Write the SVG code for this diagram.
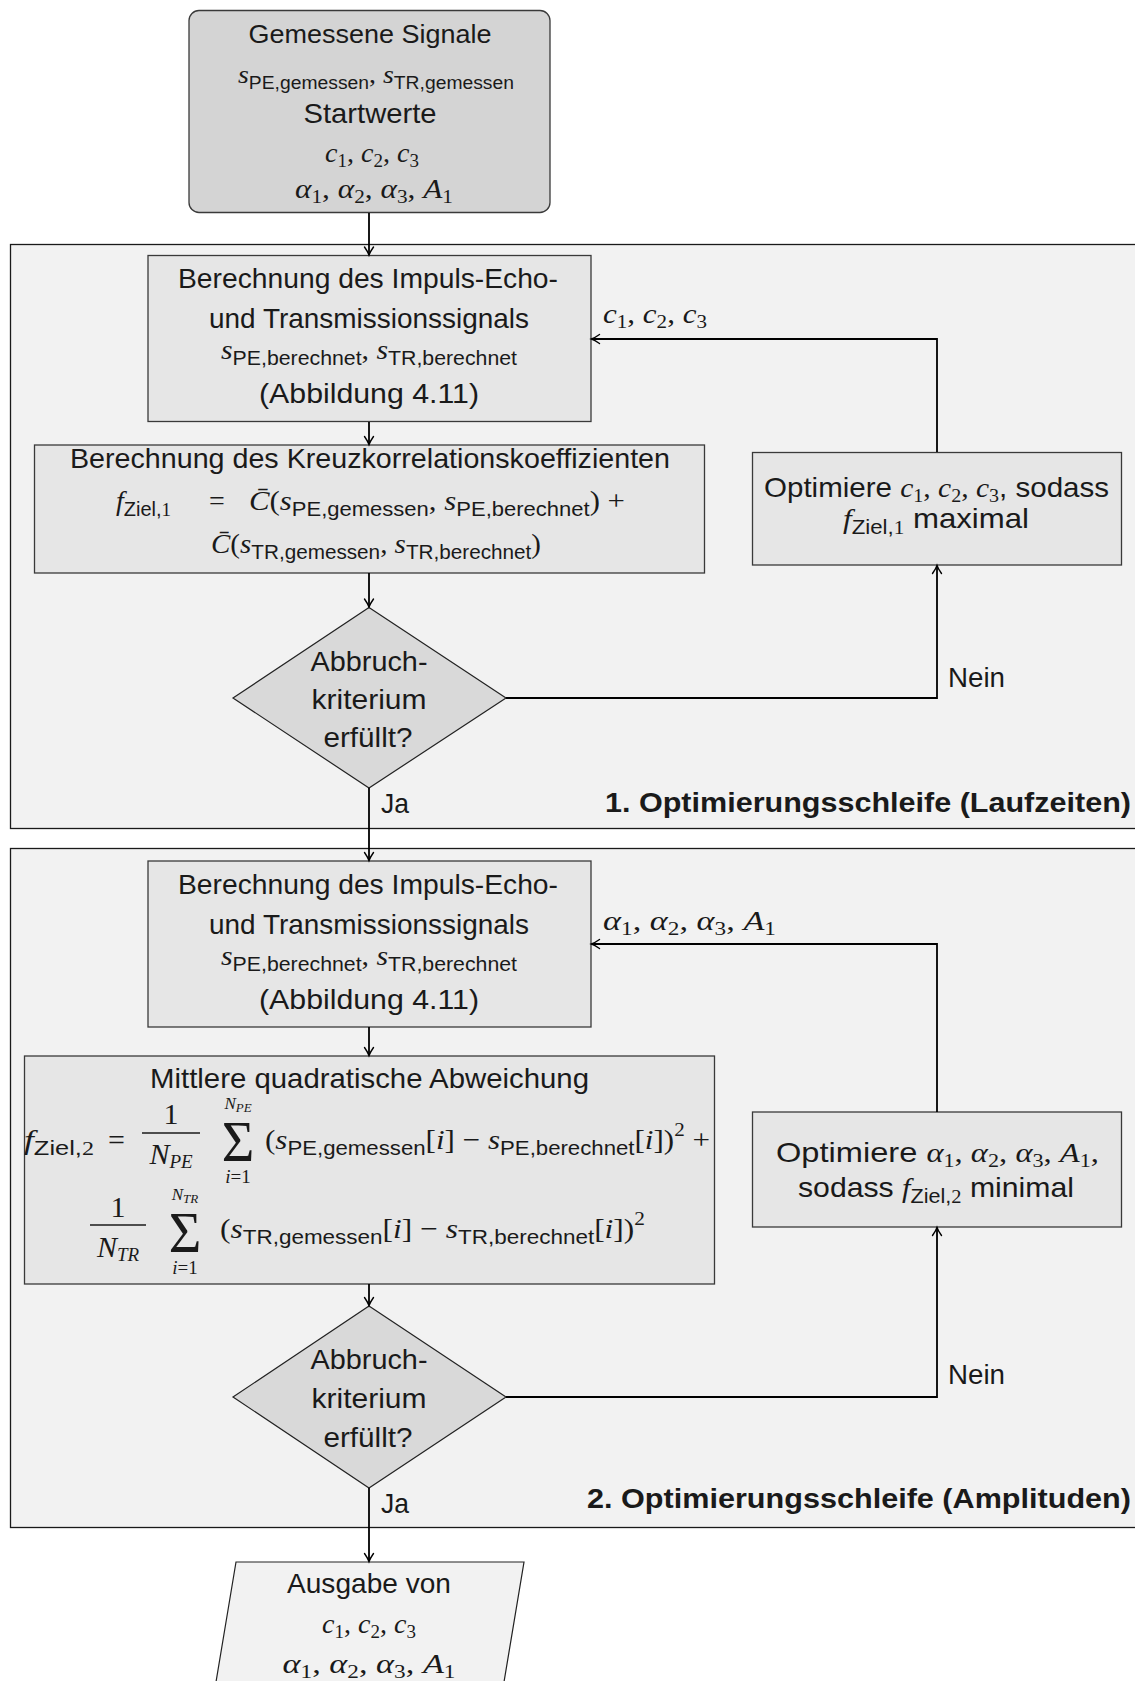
<svg xmlns="http://www.w3.org/2000/svg" width="1135" height="1681" viewBox="0 0 1135 1681">
<defs>
<style>
text{font-family:"Liberation Sans",Arial,sans-serif;font-size:28px;fill:#1a1a1a}
.c{text-anchor:middle}
.k{font-size:26px}
.mi{font-family:"Liberation Serif","Times New Roman",serif;font-style:italic}
.mr{font-family:"Liberation Serif","Times New Roman",serif;font-style:normal}
.sb{font-size:20px}
.sbk{font-size:18px}
.ns{font-family:"Liberation Serif","Times New Roman",serif;font-size:19px;font-style:normal}
.nsi{font-family:"Liberation Serif","Times New Roman",serif;font-style:italic;font-size:19px}
.sup{font-family:"Liberation Serif","Times New Roman",serif;font-style:italic;font-size:17px}
.sup2{font-size:13px}
.fr{font-size:30px}
.big{font-family:"Liberation Serif","Times New Roman",serif;font-size:56px}
.ttl{font-weight:bold;text-anchor:end;font-size:27px}
.frame{fill:#f2f2f2;stroke:#1a1a1a;stroke-width:1.3}
.box{fill:#e6e6e6;stroke:#3a3a3a;stroke-width:1.3}
.start{fill:#d4d4d4;stroke:#3a3a3a;stroke-width:1.3}
.dec{fill:#d9d9d9;stroke:#222;stroke-width:1.2}
.out{fill:#f2f2f2;stroke:#222;stroke-width:1.2}
.ln{fill:none;stroke:#000;stroke-width:1.8;marker-end:url(#ar)}
.bar{stroke:#1a1a1a;stroke-width:1.3}
</style>
<marker id="ar" viewBox="-10 -6 12 12" refX="0" refY="0" markerWidth="12" markerHeight="12" markerUnits="userSpaceOnUse" orient="auto" overflow="visible">
<path d="M-8,-4.5 Q-3,-1 0,0 Q-3,1 -8,4.5" fill="none" stroke="#000" stroke-width="1.4" stroke-linecap="round"/>
</marker>
</defs>
<rect width="1135" height="1681" fill="#fff"/>

<g id="frame1">
<rect class="frame" x="10.5" y="244.5" width="1140" height="584"/>
<text class="ttl" x="1131" y="812" textLength="526" lengthAdjust="spacingAndGlyphs">1. Optimierungsschleife (Laufzeiten)</text>
</g>
<g id="frame2">
<rect class="frame" x="10.5" y="848.5" width="1140" height="679"/>
<text class="ttl" x="1131" y="1508" textLength="544" lengthAdjust="spacingAndGlyphs">2. Optimierungsschleife (Amplituden)</text>
</g>

<g id="start-node">
<rect class="start" x="189" y="10.5" width="361" height="202" rx="10"/>
<text class="c k" x="370" y="43" textLength="243" lengthAdjust="spacingAndGlyphs">Gemessene Signale</text>
<text class="c k" x="376" y="83" textLength="276" lengthAdjust="spacingAndGlyphs"><tspan class="mi">s</tspan><tspan class="sbk" dy="6">PE,gemessen</tspan><tspan class="mr" dy="-6">, </tspan><tspan class="mi">s</tspan><tspan class="sbk" dy="6">TR,gemessen</tspan></text>
<text class="c" x="370" y="123" textLength="133" lengthAdjust="spacingAndGlyphs">Startwerte</text>
<text class="c" x="372" y="162"><tspan class="mi">c</tspan><tspan class="ns" dy="5">1</tspan><tspan class="mr" dy="-5">, </tspan><tspan class="mi">c</tspan><tspan class="ns" dy="5">2</tspan><tspan class="mr" dy="-5">, </tspan><tspan class="mi">c</tspan><tspan class="ns" dy="5">3</tspan></text>
<text class="c" x="374" y="198" textLength="158" lengthAdjust="spacingAndGlyphs"><tspan class="mi">α</tspan><tspan class="ns" dy="5">1</tspan><tspan class="mr" dy="-5">, </tspan><tspan class="mi">α</tspan><tspan class="ns" dy="5">2</tspan><tspan class="mr" dy="-5">, </tspan><tspan class="mi">α</tspan><tspan class="ns" dy="5">3</tspan><tspan class="mr" dy="-5">, </tspan><tspan class="mi">A</tspan><tspan class="ns" dy="5">1</tspan></text>
</g>

<g id="calc1">
<rect class="box" x="148" y="255.5" width="443" height="166"/>
<text class="c" x="368" y="288" textLength="380" lengthAdjust="spacingAndGlyphs">Berechnung des Impuls-Echo-</text>
<text class="c" x="369" y="328" textLength="320" lengthAdjust="spacingAndGlyphs">und Transmissionssignals</text>
<text class="c" x="369" y="359" textLength="296" lengthAdjust="spacingAndGlyphs"><tspan class="mi">s</tspan><tspan class="sb" dy="6">PE,berechnet</tspan><tspan class="mr" dy="-6">, </tspan><tspan class="mi">s</tspan><tspan class="sb" dy="6">TR,berechnet</tspan></text>
<text class="c" x="369" y="403" textLength="220" lengthAdjust="spacingAndGlyphs">(Abbildung 4.11)</text>
</g>

<g id="xcorr">
<rect class="box" x="34.5" y="445" width="670" height="128"/>
<text class="c" x="370" y="468" textLength="600" lengthAdjust="spacingAndGlyphs">Berechnung des Kreuzkorrelationskoeffizienten</text>
<text x="116" y="510"><tspan class="mi">f</tspan><tspan class="sb" dy="6">Ziel,</tspan><tspan class="ns">1</tspan></text>
<text class="mr" x="209" y="510">=</text>
<text x="249" y="510" textLength="376" lengthAdjust="spacingAndGlyphs"><tspan class="mi">C̄</tspan><tspan class="mr">(</tspan><tspan class="mi">s</tspan><tspan class="sb" dy="6">PE,gemessen</tspan><tspan class="mr" dy="-6">, </tspan><tspan class="mi">s</tspan><tspan class="sb" dy="6">PE,berechnet</tspan><tspan class="mr" dy="-6">) +</tspan></text>
<text x="211" y="553" textLength="330" lengthAdjust="spacingAndGlyphs"><tspan class="mi">C̄</tspan><tspan class="mr">(</tspan><tspan class="mi">s</tspan><tspan class="sb" dy="6">TR,gemessen</tspan><tspan class="mr" dy="-6">, </tspan><tspan class="mi">s</tspan><tspan class="sb" dy="6">TR,berechnet</tspan><tspan class="mr" dy="-6">)</tspan></text>
</g>

<g id="decision1">
<polygon class="dec" points="369,607.5 506,698 369,788 233,698"/>
<text class="c" x="369" y="671" textLength="117" lengthAdjust="spacingAndGlyphs">Abbruch-</text>
<text class="c" x="369" y="709" textLength="115" lengthAdjust="spacingAndGlyphs">kriterium</text>
<text class="c" x="368" y="747" textLength="89" lengthAdjust="spacingAndGlyphs">erfüllt?</text>
</g>

<g id="opt1">
<rect class="box" x="752.5" y="452.5" width="369" height="112.5"/>
<text class="c" x="936.5" y="497" textLength="345" lengthAdjust="spacingAndGlyphs">Optimiere <tspan class="mi">c</tspan><tspan class="ns" dy="5">1</tspan><tspan class="mr" dy="-5">, </tspan><tspan class="mi">c</tspan><tspan class="ns" dy="5">2</tspan><tspan class="mr" dy="-5">, </tspan><tspan class="mi">c</tspan><tspan class="ns" dy="5">3</tspan><tspan dy="-5">, sodass</tspan></text>
<text class="c" x="936" y="528" textLength="186" lengthAdjust="spacingAndGlyphs"><tspan class="mi">f</tspan><tspan class="sb" dy="6">Ziel,</tspan><tspan class="ns">1</tspan><tspan dy="-6"> maximal</tspan></text>
</g>

<g id="calc2">
<rect class="box" x="148" y="861" width="443" height="166"/>
<text class="c" x="368" y="894" textLength="380" lengthAdjust="spacingAndGlyphs">Berechnung des Impuls-Echo-</text>
<text class="c" x="369" y="934" textLength="320" lengthAdjust="spacingAndGlyphs">und Transmissionssignals</text>
<text class="c" x="369" y="965" textLength="296" lengthAdjust="spacingAndGlyphs"><tspan class="mi">s</tspan><tspan class="sb" dy="6">PE,berechnet</tspan><tspan class="mr" dy="-6">, </tspan><tspan class="mi">s</tspan><tspan class="sb" dy="6">TR,berechnet</tspan></text>
<text class="c" x="369" y="1009" textLength="220" lengthAdjust="spacingAndGlyphs">(Abbildung 4.11)</text>
</g>

<g id="mse">
<rect class="box" x="24.5" y="1056" width="690" height="228"/>
<text class="c" x="369.5" y="1088" textLength="439" lengthAdjust="spacingAndGlyphs">Mittlere quadratische Abweichung</text>
<text x="24" y="1149" textLength="70" lengthAdjust="spacingAndGlyphs"><tspan class="mi">f</tspan><tspan class="sb" dy="6">Ziel,</tspan><tspan class="ns">2</tspan></text>
<text class="mr fr" x="108" y="1150">=</text>
<text class="mr c fr" x="171" y="1124">1</text>
<line class="bar" x1="142" y1="1133" x2="200" y2="1133"/>
<text class="c fr" x="171" y="1164"><tspan class="mi">N</tspan><tspan class="nsi" dy="4">PE</tspan></text>
<text class="big c" x="238" y="1161">Σ</text>
<text class="c" x="238" y="1109"><tspan class="sup">N</tspan><tspan class="sup sup2" dy="3">PE</tspan></text>
<text class="c" x="238" y="1183"><tspan class="nsi">i</tspan><tspan class="ns">=1</tspan></text>
<text x="265" y="1149" textLength="445" lengthAdjust="spacingAndGlyphs"><tspan class="mr">(</tspan><tspan class="mi">s</tspan><tspan class="sb" dy="6">PE,gemessen</tspan><tspan class="mr" dy="-6">[</tspan><tspan class="mi">i</tspan><tspan class="mr">] − </tspan><tspan class="mi">s</tspan><tspan class="sb" dy="6">PE,berechnet</tspan><tspan class="mr" dy="-6">[</tspan><tspan class="mi">i</tspan><tspan class="mr">])</tspan><tspan class="ns" dy="-13">2</tspan><tspan class="mr" dy="13"> +</tspan></text>
<text class="mr c fr" x="118" y="1217">1</text>
<line class="bar" x1="90" y1="1225" x2="146" y2="1225"/>
<text class="c fr" x="118" y="1257"><tspan class="mi">N</tspan><tspan class="nsi" dy="4">TR</tspan></text>
<text class="big c" x="185" y="1252">Σ</text>
<text class="c" x="185" y="1200"><tspan class="sup">N</tspan><tspan class="sup sup2" dy="3">TR</tspan></text>
<text class="c" x="185" y="1274"><tspan class="nsi">i</tspan><tspan class="ns">=1</tspan></text>
<text x="220" y="1238" textLength="425" lengthAdjust="spacingAndGlyphs"><tspan class="mr">(</tspan><tspan class="mi">s</tspan><tspan class="sb" dy="6">TR,gemessen</tspan><tspan class="mr" dy="-6">[</tspan><tspan class="mi">i</tspan><tspan class="mr">] − </tspan><tspan class="mi">s</tspan><tspan class="sb" dy="6">TR,berechnet</tspan><tspan class="mr" dy="-6">[</tspan><tspan class="mi">i</tspan><tspan class="mr">])</tspan><tspan class="ns" dy="-13">2</tspan></text>
</g>

<g id="decision2">
<polygon class="dec" points="369,1306 506,1397 369,1488 233,1397"/>
<text class="c" x="369" y="1369" textLength="117" lengthAdjust="spacingAndGlyphs">Abbruch-</text>
<text class="c" x="369" y="1408" textLength="115" lengthAdjust="spacingAndGlyphs">kriterium</text>
<text class="c" x="368" y="1447" textLength="89" lengthAdjust="spacingAndGlyphs">erfüllt?</text>
</g>

<g id="opt2">
<rect class="box" x="752.5" y="1112" width="369" height="115"/>
<text class="c" x="937.5" y="1162" textLength="323" lengthAdjust="spacingAndGlyphs">Optimiere <tspan class="mi">α</tspan><tspan class="ns" dy="5">1</tspan><tspan class="mr" dy="-5">, </tspan><tspan class="mi">α</tspan><tspan class="ns" dy="5">2</tspan><tspan class="mr" dy="-5">, </tspan><tspan class="mi">α</tspan><tspan class="ns" dy="5">3</tspan><tspan class="mr" dy="-5">, </tspan><tspan class="mi">A</tspan><tspan class="ns" dy="5">1</tspan><tspan class="mr" dy="-5">,</tspan></text>
<text class="c" x="936" y="1197" textLength="276" lengthAdjust="spacingAndGlyphs">sodass <tspan class="mi">f</tspan><tspan class="sb" dy="6">Ziel,</tspan><tspan class="ns">2</tspan><tspan dy="-6"> minimal</tspan></text>
</g>

<g id="output">
<polygon class="out" points="236,1562 524,1562 501,1700 213,1700"/>
<text class="c" x="369" y="1593" textLength="164" lengthAdjust="spacingAndGlyphs">Ausgabe von</text>
<text class="c" x="369" y="1633"><tspan class="mi">c</tspan><tspan class="ns" dy="5">1</tspan><tspan class="mr" dy="-5">, </tspan><tspan class="mi">c</tspan><tspan class="ns" dy="5">2</tspan><tspan class="mr" dy="-5">, </tspan><tspan class="mi">c</tspan><tspan class="ns" dy="5">3</tspan></text>
<text class="c" x="369" y="1673" textLength="173" lengthAdjust="spacingAndGlyphs"><tspan class="mi">α</tspan><tspan class="ns" dy="5">1</tspan><tspan class="mr" dy="-5">, </tspan><tspan class="mi">α</tspan><tspan class="ns" dy="5">2</tspan><tspan class="mr" dy="-5">, </tspan><tspan class="mi">α</tspan><tspan class="ns" dy="5">3</tspan><tspan class="mr" dy="-5">, </tspan><tspan class="mi">A</tspan><tspan class="ns" dy="5">1</tspan></text>
</g>

<g id="connectors">
<path class="ln" d="M369,213 V255"/>
<path class="ln" d="M369,422 V444.5"/>
<path class="ln" d="M369,573 V607"/>
<path class="ln" d="M506,698 H937 V565.5"/>
<path class="ln" d="M937,452 V339 H591.5"/>
<path class="ln" d="M369,788 V860.5"/>
<path class="ln" d="M369,1027 V1055.5"/>
<path class="ln" d="M369,1284 V1305.5"/>
<path class="ln" d="M506,1397 H937 V1227.5"/>
<path class="ln" d="M937,1112 V944 H591.5"/>
<path class="ln" d="M369,1488 V1561.5"/>
</g>

<g id="labels">
<text x="603" y="323" textLength="104" lengthAdjust="spacingAndGlyphs"><tspan class="mi">c</tspan><tspan class="ns" dy="5">1</tspan><tspan class="mr" dy="-5">, </tspan><tspan class="mi">c</tspan><tspan class="ns" dy="5">2</tspan><tspan class="mr" dy="-5">, </tspan><tspan class="mi">c</tspan><tspan class="ns" dy="5">3</tspan></text>
<text x="948" y="687" textLength="57" lengthAdjust="spacingAndGlyphs">Nein</text>
<text x="381" y="813" textLength="28" lengthAdjust="spacingAndGlyphs">Ja</text>
<text x="603" y="930" textLength="173" lengthAdjust="spacingAndGlyphs"><tspan class="mi">α</tspan><tspan class="ns" dy="5">1</tspan><tspan class="mr" dy="-5">, </tspan><tspan class="mi">α</tspan><tspan class="ns" dy="5">2</tspan><tspan class="mr" dy="-5">, </tspan><tspan class="mi">α</tspan><tspan class="ns" dy="5">3</tspan><tspan class="mr" dy="-5">, </tspan><tspan class="mi">A</tspan><tspan class="ns" dy="5">1</tspan></text>
<text x="948" y="1384" textLength="57" lengthAdjust="spacingAndGlyphs">Nein</text>
<text x="381" y="1513" textLength="28" lengthAdjust="spacingAndGlyphs">Ja</text>
</g>
</svg>
